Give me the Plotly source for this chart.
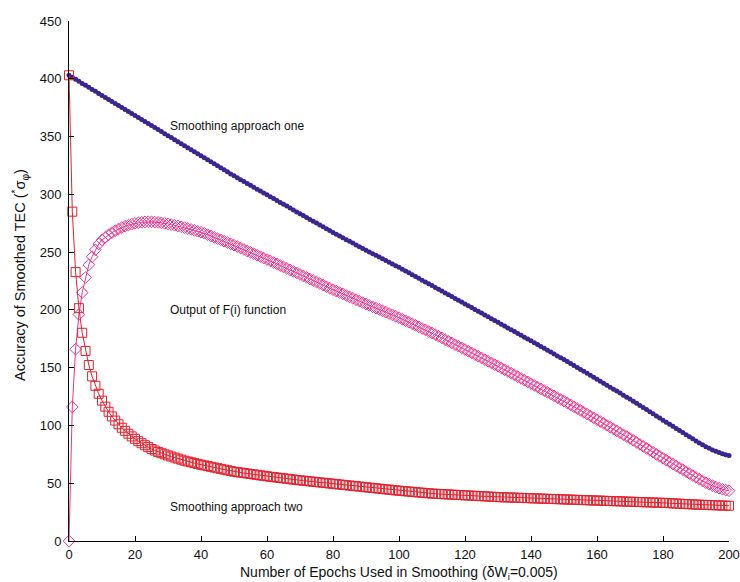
import plotly.graph_objects as go

epochs = list(range(0, 201))

approach_one = [
    403.0, 401.3, 399.5, 397.8, 396.0, 394.3, 392.6, 390.8, 389.1, 387.3,
    385.6, 383.9, 382.1, 380.4, 378.6, 376.9, 375.2, 373.4, 371.7, 369.9,
    368.2, 366.5, 364.7, 363.0, 361.2, 359.5, 357.8, 356.0, 354.3, 352.5,
    350.8, 349.1, 347.3, 345.6, 343.8, 342.1, 340.4, 338.6, 336.9, 335.1,
    333.4, 331.7, 329.9, 328.2, 326.4, 324.7, 323.0, 321.2, 319.5, 317.7,
    316.0, 314.4, 312.7, 311.1, 309.4, 307.8, 306.2, 304.5, 302.9, 301.2,
    299.6, 298.0, 296.3, 294.7, 293.0, 291.4, 289.8, 288.1, 286.5, 284.8,
    283.2, 281.6, 280.0, 278.3, 276.7, 275.1, 273.5, 271.9, 270.2, 268.6,
    267.0, 265.5, 263.9, 262.4, 260.8, 259.3, 257.8, 256.2, 254.7, 253.1,
    251.6, 250.1, 248.6, 247.2, 245.7, 244.2, 242.7, 241.2, 239.8, 238.3,
    236.8, 235.2, 233.6, 232.1, 230.5, 228.9, 227.3, 225.7, 224.2, 222.6,
    221.0, 219.4, 217.8, 216.3, 214.7, 213.1, 211.5, 209.9, 208.4, 206.8,
    205.2, 203.6, 202.0, 200.4, 198.8, 197.2, 195.6, 194.0, 192.4, 190.8,
    189.2, 187.6, 186.0, 184.4, 182.8, 181.2, 179.6, 178.0, 176.4, 174.8,
    173.2, 171.6, 170.0, 168.3, 166.7, 165.1, 163.5, 161.9, 160.2, 158.6,
    157.0, 155.3, 153.6, 151.9, 150.2, 148.5, 146.8, 145.1, 143.4, 141.7,
    140.0, 138.3, 136.6, 134.8, 133.1, 131.4, 129.7, 128.0, 126.2, 124.5,
    122.8, 121.0, 119.2, 117.3, 115.5, 113.7, 111.9, 110.1, 108.2, 106.4,
    104.6, 102.8, 101.0, 99.2, 97.4, 95.6, 93.8, 92.0, 90.2, 88.4,
    86.6, 84.9, 83.2, 81.6, 80.2, 78.8, 77.6, 76.5, 75.5, 74.6,
    74.0,
]

approach_two = [
    403.0, 285.0, 232.7, 201.5, 180.2, 164.5, 152.3, 142.5, 134.3, 127.4,
    121.5, 116.3, 111.8, 107.8, 104.2, 101.0, 98.0, 95.3, 92.8, 90.5,
    88.4, 86.4, 84.6, 82.9, 81.3, 79.6, 78.3, 77.1, 76.0, 75.0,
    74.0, 73.1, 72.2, 71.3, 70.4, 69.5, 68.8, 68.1, 67.4, 66.7,
    66.0, 65.4, 64.8, 64.2, 63.6, 63.0, 62.4, 61.8, 61.2, 60.6,
    60.0, 59.6, 59.2, 58.8, 58.4, 58.0, 57.6, 57.2, 56.8, 56.4,
    56.0, 55.6, 55.3, 54.9, 54.6, 54.2, 53.9, 53.5, 53.2, 52.8,
    52.5, 52.2, 51.9, 51.6, 51.3, 51.0, 50.7, 50.4, 50.1, 49.8,
    49.5, 49.2, 48.9, 48.6, 48.3, 48.0, 47.7, 47.4, 47.1, 46.8,
    46.5, 46.2, 45.9, 45.6, 45.3, 45.0, 44.7, 44.4, 44.1, 43.8,
    43.5, 43.3, 43.0, 42.8, 42.5, 42.3, 42.0, 41.8, 41.5, 41.3,
    41.0, 40.9, 40.7, 40.6, 40.4, 40.3, 40.1, 40.0, 39.8, 39.7,
    39.5, 39.4, 39.2, 39.1, 38.9, 38.8, 38.6, 38.5, 38.3, 38.2,
    38.0, 37.9, 37.8, 37.7, 37.6, 37.5, 37.4, 37.3, 37.2, 37.1,
    37.0, 36.9, 36.8, 36.7, 36.6, 36.5, 36.4, 36.3, 36.2, 36.1,
    36.0, 35.9, 35.8, 35.7, 35.6, 35.5, 35.4, 35.3, 35.2, 35.1,
    35.0, 34.9, 34.8, 34.7, 34.6, 34.5, 34.4, 34.3, 34.2, 34.1,
    34.0, 33.9, 33.8, 33.7, 33.6, 33.5, 33.4, 33.3, 33.2, 33.1,
    33.0, 32.9, 32.7, 32.6, 32.4, 32.3, 32.1, 32.0, 31.8, 31.7,
    31.5, 31.4, 31.3, 31.2, 31.1, 31.0, 30.9, 30.8, 30.7, 30.6,
    30.5,
]

f_output = [
    0.0, 116.0, 166.0, 196.0, 215.0, 228.0, 239.0, 246.0, 252.0, 257.0,
    260.5, 262.8, 265.0, 266.8, 268.5, 270.0, 271.3, 272.4, 273.4, 274.2,
    274.9, 275.4, 275.8, 276.1, 276.3, 276.2, 276.0, 275.7, 275.3, 274.9,
    274.4, 273.8, 273.2, 272.6, 271.9, 271.2, 270.4, 269.6, 268.8, 268.0,
    267.2, 266.3, 265.1, 264.0, 262.8, 261.7, 260.6, 259.4, 258.3, 257.1,
    256.0, 254.8, 253.5, 252.3, 251.0, 249.8, 248.6, 247.3, 246.1, 244.8,
    243.6, 242.4, 241.0, 239.8, 238.4, 237.2, 235.9, 234.6, 233.3, 232.0,
    230.7, 229.4, 228.1, 226.7, 225.4, 224.1, 222.8, 221.5, 220.1, 218.8,
    217.5, 216.3, 215.0, 213.8, 212.5, 211.3, 210.1, 208.8, 207.6, 206.3,
    205.1, 203.9, 202.7, 201.6, 200.4, 199.2, 198.0, 196.8, 195.7, 194.5,
    193.3, 191.9, 190.6, 189.3, 188.0, 186.6, 185.3, 183.9, 182.7, 181.3,
    180.0, 178.5, 177.1, 175.7, 174.3, 172.8, 171.4, 169.9, 168.6, 167.1,
    165.7, 164.2, 162.8, 161.3, 159.9, 158.4, 157.0, 155.5, 154.1, 152.6,
    151.2, 149.7, 148.2, 146.7, 145.2, 143.7, 142.2, 140.7, 139.2, 137.7,
    136.2, 134.7, 133.2, 131.6, 130.1, 128.6, 127.1, 125.6, 124.0, 122.5,
    121.0, 119.4, 117.8, 116.2, 114.6, 113.0, 111.4, 109.8, 108.2, 106.6,
    105.0, 103.4, 101.8, 100.1, 98.5, 96.9, 95.3, 93.7, 92.0, 90.4,
    88.8, 87.1, 85.4, 83.6, 81.9, 80.2, 78.5, 76.8, 75.0, 73.3,
    71.6, 69.9, 68.3, 66.6, 65.0, 63.3, 61.7, 60.0, 58.4, 56.7,
    55.1, 53.5, 51.9, 50.4, 49.1, 47.8, 46.7, 45.7, 44.8, 44.0,
    43.5,
]

x_ticks = [0, 20, 40, 60, 80, 100, 120, 140, 160, 180, 200]
y_ticks = [0, 50, 100, 150, 200, 250, 300, 350, 400, 450]

labels = ["Smoothing approach one", "Output of F(i) function", "Smoothing approach two"]
label_x = [30, 30, 30]
label_y = [359, 200, 29]

x_title = "Number of Epochs Used in Smoothing (δW<sub>i</sub>=0.005)"
y_title = "Accuracy of Smoothed TEC (<sup>*</sup>σ<sub>φ</sub>)"

FONT = "Liberation Sans, Arial, Helvetica, sans-serif"
PURPLE = "#3b2590"
MAGENTA = "#e8348e"
RED = "#e2222e"

fig = go.Figure()
fig.add_trace(go.Scatter(
    x=epochs, y=approach_one, mode="lines+markers",
    line=dict(color=PURPLE, width=2),
    marker=dict(symbol="circle", size=5, color=PURPLE),
    cliponaxis=False, showlegend=False,
))
fig.add_trace(go.Scatter(
    x=epochs, y=f_output, mode="lines+markers",
    line=dict(color=MAGENTA, width=1),
    marker=dict(symbol="diamond-open", size=9, color=MAGENTA, line=dict(width=1, color=MAGENTA)),
    cliponaxis=False, showlegend=False,
))
fig.add_trace(go.Scatter(
    x=epochs, y=approach_two, mode="lines+markers",
    line=dict(color=RED, width=1),
    marker=dict(symbol="square-open", size=9, color=RED, line=dict(width=1, color=RED)),
    cliponaxis=False, showlegend=False,
))

for t, xv, yv in zip(labels, label_x, label_y):
    fig.add_annotation(x=xv, y=yv, text=t, showarrow=False, xanchor="left", yanchor="middle",
                       font=dict(family=FONT, size=12, color="#111"))

# axis titles placed as paper annotations for exact position
fig.add_annotation(xref="paper", yref="paper", x=0.5, y=-0.0615, text=x_title,
                   showarrow=False, xanchor="center", yanchor="middle",
                   font=dict(family=FONT, size=14, color="#111"))
fig.add_annotation(xref="paper", yref="paper", x=-0.074, y=0.512, text=y_title,
                   textangle=-90, showarrow=False, xanchor="center", yanchor="middle",
                   font=dict(family=FONT, size=14.5, color="#111"))

fig.update_layout(
    width=740, height=582,
    margin=dict(l=69, r=11, t=21, b=41),
    paper_bgcolor="white", plot_bgcolor="white",
    font=dict(family=FONT, size=13, color="#111"),
)
fig.update_xaxes(
    range=[0, 200], tickvals=x_ticks, ticks="inside", ticklen=5, tickcolor="#000",
    showline=True, linecolor="#000", linewidth=1, showgrid=False, zeroline=False,
    automargin=False, tickfont=dict(family=FONT, size=13, color="#111"),
    ticklabelstandoff=1,
)
fig.update_yaxes(
    range=[0, 450], tickvals=y_ticks, ticks="inside", ticklen=5, tickcolor="#000",
    showline=True, linecolor="#000", linewidth=1, showgrid=False, zeroline=False,
    automargin=False, tickfont=dict(family=FONT, size=13, color="#111"),
    ticklabelstandoff=4,
)

fig.write_html("out.html")
